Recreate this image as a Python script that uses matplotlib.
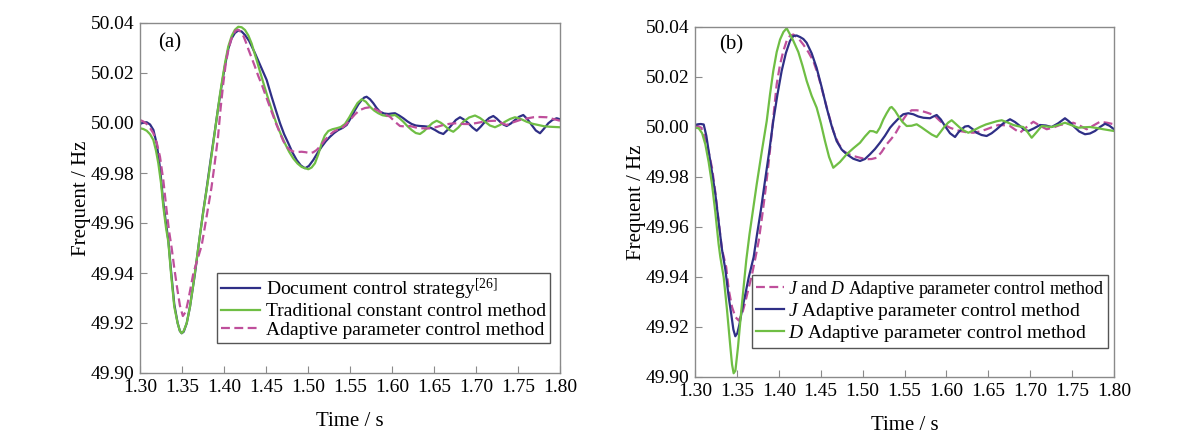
import matplotlib
matplotlib.use('Agg')
import matplotlib.pyplot as plt

# ---------------- (a) ----------------
# Document control strategy [26]
t_a_doc = [1.300, 1.304, 1.308, 1.312, 1.316, 1.320, 1.324, 1.3274, 1.3305, 1.3337, 1.3369, 1.3408,
           1.3448, 1.3475, 1.3496, 1.3520, 1.3556, 1.3595, 1.3655, 1.3706, 1.375, 1.379, 1.384, 1.389,
           1.393, 1.3972, 1.4012, 1.405, 1.409, 1.413, 1.417, 1.421, 1.425, 1.430, 1.4369, 1.443,
           1.4508, 1.4567, 1.462, 1.4667, 1.4716, 1.4766, 1.4815, 1.4865, 1.4915, 1.4964, 1.501,
           1.5063, 1.5113, 1.5163, 1.5212, 1.5262, 1.5311, 1.5361, 1.541, 1.546, 1.551, 1.556, 1.560,
           1.5639, 1.567, 1.5698, 1.5738, 1.5778, 1.5817, 1.5857, 1.5906, 1.5956, 1.600, 1.6036,
           1.6085, 1.6135, 1.6185, 1.6234, 1.6283, 1.6333, 1.6383, 1.6433, 1.6472, 1.6512, 1.6561,
           1.6611, 1.666, 1.671, 1.676, 1.681, 1.686, 1.6909, 1.6958, 1.7008, 1.7058, 1.7107, 1.7156,
           1.7206, 1.7246, 1.7286, 1.7325, 1.7365, 1.7415, 1.7464, 1.7514, 1.7563, 1.7613, 1.7663,
           1.7712, 1.7762, 1.7811, 1.7861, 1.791, 1.796, 1.800]
f_a_doc = [49.9996, 50.0002, 50.0003, 49.9994, 49.9972, 49.9915, 49.9815, 49.9692, 49.9610, 49.9532,
           49.9410, 49.9275, 49.9200, 49.9168, 49.9159, 49.9165, 49.9199, 49.9265, 49.9399, 49.9532,
           49.9640, 49.9730, 49.9850, 49.9965, 50.0060, 50.0150, 50.0230, 50.0295, 50.0338, 50.0360,
           50.0370, 50.0366, 50.0352, 50.0328, 50.0279, 50.0232, 50.0172, 50.0105, 50.0048, 49.9999,
           49.9955, 49.9919, 49.9882, 49.9852, 49.9830, 49.9819, 49.9828, 49.9852, 49.9880, 49.9905,
           49.9927, 49.9945, 49.9960, 49.9972, 49.9980, 49.9992, 50.0020, 50.0052, 50.0075, 50.0092,
           50.0102, 50.0105, 50.0095, 50.0079, 50.0060, 50.0045, 50.0038, 50.0036, 50.0038, 50.0039,
           50.0030, 50.0019, 50.0006, 49.9996, 49.9990, 49.9988, 49.9987, 49.9985, 49.9979, 49.9972,
           49.9962, 49.9956, 49.9972, 49.9992, 50.0012, 50.0023, 50.0013, 49.9999, 49.9982, 49.9969,
           49.9986, 50.0005, 50.0020, 50.0028, 50.0018, 50.0005, 49.9994, 49.9988, 49.9998, 50.0012,
           50.0025, 50.0032, 50.0015, 49.9992, 49.9970, 49.9959, 49.9978, 49.9999, 50.0012, 50.0019,
           50.0015]

# Traditional constant control method
t_a_trad = [1.300, 1.304, 1.308, 1.312, 1.3159, 1.319, 1.3218, 1.325, 1.3278, 1.331, 1.3337, 1.3369,
            1.3408, 1.3448, 1.3475, 1.3496, 1.352, 1.3556, 1.3595, 1.3633, 1.3671, 1.3711, 1.376,
            1.381, 1.386, 1.391, 1.395, 1.3985, 1.4015, 1.405, 1.4091, 1.413, 1.417, 1.421, 1.425,
            1.429, 1.4329, 1.4349, 1.439, 1.4429, 1.4478, 1.4528, 1.4578, 1.4627, 1.4676, 1.4726,
            1.4775, 1.4825, 1.4875, 1.4925, 1.5004, 1.5043, 1.5083, 1.5123, 1.5163, 1.520, 1.5242,
            1.5291, 1.5341, 1.539, 1.544, 1.549, 1.554, 1.559, 1.5639, 1.5689, 1.5738, 1.5787, 1.5837,
            1.5887, 1.5937, 1.5986, 1.6036, 1.6085, 1.6135, 1.6185, 1.6234, 1.6283, 1.6333, 1.6383,
            1.6433, 1.6482, 1.6532, 1.6581, 1.6631, 1.668, 1.673, 1.679, 1.6849, 1.6918, 1.6988,
            1.7048, 1.7107, 1.7166, 1.7226, 1.7285, 1.7345, 1.7405, 1.7464, 1.7533, 1.7603, 1.7672,
            1.7742, 1.7811, 1.788, 1.800]
f_a_trad = [49.9979, 49.9976, 49.9969, 49.9955, 49.9932, 49.9890, 49.9839, 49.9760, 49.9665, 49.9580,
            49.9525, 49.9399, 49.9265, 49.9199, 49.9168, 49.9159, 49.9168, 49.9199, 49.9265, 49.9350,
            49.9445, 49.9545, 49.9660, 49.9772, 49.9890, 50.0012, 50.0110, 50.0185, 50.0245, 50.0305,
            50.0348, 50.0373, 50.0385, 50.0383, 50.0372, 50.0350, 50.0318, 50.0295, 50.0250, 50.0205,
            50.0150, 50.0095, 50.0043, 49.9995, 49.9955, 49.9918, 49.9885, 49.9858, 49.9838, 49.9824,
            49.9815, 49.9822, 49.9839, 49.9875, 49.9919, 49.9950, 49.9968, 49.9975, 49.9979, 49.9984,
            49.9996, 50.0022, 50.0052, 50.0080, 50.0095, 50.0085, 50.0065, 50.0050, 50.0039, 50.0031,
            50.0028, 50.0029, 50.0032, 50.0020, 50.0005, 49.9987, 49.9972, 49.9960, 49.9956, 49.9968,
            49.9985, 50.0000, 50.0009, 50.0001, 49.9988, 49.9973, 49.9965, 49.9982, 50.0005, 50.0022,
            50.0030, 50.0020, 50.0005, 49.9990, 49.9983, 49.9992, 50.0005, 50.0016, 50.0023, 50.0016,
            50.0005, 49.9997, 49.9992, 49.9987, 49.9985, 49.9983]

# Adaptive parameter control method
t_a_adp = [1.300, 1.304, 1.308, 1.312, 1.3159, 1.320, 1.3238, 1.3278, 1.3317, 1.3345, 1.3377, 1.3408,
           1.344, 1.3475, 1.351, 1.3545, 1.3575, 1.3605, 1.3635, 1.3685, 1.3734, 1.377, 1.381, 1.385,
           1.389, 1.3929, 1.396, 1.3992, 1.4022, 1.4052, 1.4082, 1.4111, 1.414, 1.417, 1.420, 1.4235,
           1.427, 1.429, 1.433, 1.4369, 1.4408, 1.4448, 1.4507, 1.4567, 1.4617, 1.4667, 1.4706,
           1.4746, 1.4785, 1.4825, 1.4875, 1.4925, 1.4975, 1.5024, 1.5063, 1.5103, 1.5152, 1.5202,
           1.5252, 1.5302, 1.5351, 1.5401, 1.545, 1.550, 1.556, 1.5619, 1.5679, 1.5738, 1.5798,
           1.5857, 1.5916, 1.5976, 1.6035, 1.6095, 1.6155, 1.6214, 1.6283, 1.6353, 1.6412, 1.6472,
           1.6541, 1.6611, 1.669, 1.677, 1.685, 1.6929, 1.7008, 1.7087, 1.7156, 1.7226, 1.7296,
           1.7365, 1.7445, 1.7524, 1.7603, 1.7683, 1.7762, 1.7841, 1.792, 1.800]
f_a_adp = [50.0012, 50.0006, 49.9996, 49.9980, 49.9959, 49.9920, 49.9865, 49.9770, 49.9650, 49.9570,
           49.9500, 49.9420, 49.9345, 49.9270, 49.9228, 49.9245, 49.9292, 49.9345, 49.9399, 49.9455,
           49.9510, 49.9580, 49.9660, 49.9740, 49.9840, 49.9945, 50.0060, 50.0160, 50.0240, 50.0292,
           50.0330, 50.0355, 50.0370, 50.0373, 50.0365, 50.0345, 50.0315, 50.0295, 50.0260, 50.0225,
           50.0188, 50.0155, 50.0100, 50.0045, 50.0000, 49.9959, 49.9928, 49.9905, 49.9892, 49.9886,
           49.9884, 49.9885, 49.9883, 49.9879, 49.9883, 49.9892, 49.9910, 49.9932, 49.9950, 49.9965,
           49.9973, 49.9979, 49.9993, 50.0012, 50.0035, 50.0052, 50.0060, 50.0063, 50.0056, 50.0045,
           50.0035, 50.0025, 50.0005, 49.9988, 49.9986, 49.9988, 49.9982, 49.9979, 49.9978, 49.9979,
           49.9985, 49.9992, 49.9997, 49.9999, 49.9996, 49.9996, 50.0000, 50.0005, 50.0008, 50.0009,
           50.0001, 49.9992, 50.0003, 50.0012, 50.0018, 50.0023, 50.0024, 50.0023, 50.0016, 50.0009]

# ---------------- (b) ----------------
# J and D adaptive parameter control method
t_b_jd = [1.300, 1.3037, 1.3075, 1.3115, 1.3163, 1.3203, 1.3242, 1.3282, 1.3322, 1.3372, 1.3402,
          1.3442, 1.3482, 1.3521, 1.356, 1.360, 1.364, 1.368, 1.372, 1.376, 1.380, 1.384, 1.388,
          1.3919, 1.3947, 1.3975, 1.4015, 1.4054, 1.4094, 1.4134, 1.4173, 1.4233, 1.4292, 1.4352,
          1.4412, 1.4472, 1.4531, 1.4591, 1.465, 1.471, 1.477, 1.483, 1.4889, 1.4969, 1.5048,
          1.5108, 1.5168, 1.5227, 1.5287, 1.5336, 1.5386, 1.5436, 1.5486, 1.5536, 1.5585, 1.5645,
          1.5705, 1.5764, 1.5824, 1.5874, 1.5924, 1.5984, 1.6043, 1.6103, 1.6162, 1.6241, 1.6321,
          1.640, 1.648, 1.655, 1.662, 1.669, 1.6759, 1.6818, 1.6878, 1.6958, 1.7037, 1.7117,
          1.7197, 1.7277, 1.7356, 1.7436, 1.7515, 1.7595, 1.7674, 1.7754, 1.7833, 1.7917, 1.800]
f_b_jd = [50.0004, 50.0003, 49.9997, 49.9960, 49.9900, 49.9837, 49.9740, 49.9624, 49.9510, 49.9440,
          49.9350, 49.9280, 49.9240, 49.9226, 49.9250, 49.9300, 49.9355, 49.9410, 49.9475, 49.9544,
          49.9640, 49.9744, 49.9860, 49.9984, 50.0080, 50.0171, 50.0250, 50.0304, 50.0345, 50.0365,
          50.0370, 50.0355, 50.0330, 50.0300, 50.0264, 50.0205, 50.0130, 50.0055, 49.9984, 49.9935,
          49.9904, 49.9892, 49.9884, 49.9877, 49.9871, 49.9872, 49.9877, 49.9900, 49.9931, 49.9950,
          49.9971, 50.0000, 50.0031, 50.0055, 50.0067, 50.0067, 50.0064, 50.0058, 50.0051, 50.0040,
          50.0024, 50.0008, 49.9997, 49.9990, 49.9984, 49.9979, 49.9977, 49.9982, 49.9991, 50.0000,
          50.0008, 50.0007, 50.0004, 49.9990, 49.9977, 50.0000, 50.0021, 50.0005, 49.9991, 49.9998,
          50.0008, 50.0013, 50.0017, 50.0005, 49.9991, 50.0006, 50.0021, 50.0017, 50.0011]

# J adaptive parameter control method
t_b_j = [1.300, 1.3037, 1.307, 1.3104, 1.3135, 1.3163, 1.3203, 1.3243, 1.3282, 1.3322, 1.3362,
         1.3402, 1.3433, 1.3458, 1.3481, 1.3505, 1.353, 1.3561, 1.360, 1.364, 1.370, 1.374, 1.3787,
         1.3835, 1.3885, 1.3934, 1.3984, 1.4034, 1.4084, 1.4133, 1.4173, 1.4213, 1.4253, 1.4293,
         1.4332, 1.4392, 1.4451, 1.4511, 1.4571, 1.463, 1.469, 1.475, 1.481, 1.4889, 1.4969,
         1.5028, 1.5088, 1.5148, 1.5207, 1.5267, 1.5327, 1.5366, 1.5406, 1.5446, 1.5486, 1.5545,
         1.5605, 1.5665, 1.5725, 1.5764, 1.5804, 1.5844, 1.5884, 1.5934, 1.5983, 1.6043, 1.6103,
         1.6142, 1.6182, 1.6222, 1.6262, 1.6311, 1.6361, 1.642, 1.648, 1.654, 1.660, 1.668,
         1.6759, 1.6818, 1.6878, 1.6928, 1.6978, 1.7047, 1.7117, 1.7186, 1.7256, 1.7335, 1.7415,
         1.7465, 1.7515, 1.7585, 1.7654, 1.7713, 1.7773, 1.7833, 1.7893, 1.7946, 1.800]
f_b_j = [50.0008, 50.0011, 50.0012, 50.0010, 49.9965, 49.9904, 49.9820, 49.9731, 49.9620, 49.9510,
         49.9430, 49.9320, 49.9250, 49.9190, 49.9163, 49.9175, 49.9210, 49.9268, 49.9330, 49.9397,
         49.9480, 49.9570, 49.9670, 49.9784, 49.9900, 50.0024, 50.0130, 50.0224, 50.0295, 50.0344,
         50.0364, 50.0366, 50.0360, 50.0352, 50.0337, 50.0295, 50.0237, 50.0160, 50.0077, 50.0005,
         49.9944, 49.9910, 49.9891, 49.9873, 49.9864, 49.9872, 49.9891, 49.9912, 49.9937, 49.9965,
         49.9997, 50.0012, 50.0026, 50.0040, 50.0051, 50.0055, 50.0051, 50.0042, 50.0037, 50.0036,
         50.0035, 50.0042, 50.0048, 50.0030, 50.0004, 49.9975, 49.9960, 49.9978, 49.9991, 50.0002,
         50.0004, 49.9992, 49.9977, 49.9968, 49.9964, 49.9975, 49.9991, 50.0015, 50.0031, 50.0020,
         50.0004, 49.9990, 49.9984, 49.9995, 50.0008, 50.0006, 50.0000, 50.0015, 50.0035, 50.0022,
         50.0004, 49.9982, 49.9971, 49.9974, 49.9984, 50.0000, 50.0013, 50.0005, 49.9991]

# D adaptive parameter control method
t_b_d = [1.300, 1.3044, 1.3085, 1.3123, 1.3163, 1.3203, 1.3242, 1.3282, 1.3302, 1.3342, 1.3382,
         1.3422, 1.3442, 1.3461, 1.3482, 1.3513, 1.3553, 1.3612, 1.365, 1.3693, 1.3736, 1.3796,
         1.3856, 1.3895, 1.3934, 1.3975, 1.4015, 1.4055, 1.4094, 1.4134, 1.4173, 1.4233, 1.4283,
         1.4333, 1.4392, 1.4452, 1.4502, 1.4551, 1.460, 1.465, 1.473, 1.481, 1.489, 1.4969,
         1.5028, 1.5088, 1.5128, 1.5168, 1.5207, 1.5247, 1.5287, 1.5327, 1.5347, 1.5387, 1.5426,
         1.5476, 1.5526, 1.5585, 1.5645, 1.5705, 1.5764, 1.5824, 1.5884, 1.5934, 1.5983, 1.6023,
         1.6063, 1.6113, 1.6162, 1.6212, 1.6262, 1.6332, 1.6401, 1.647, 1.654, 1.660, 1.666,
         1.673, 1.6799, 1.6858, 1.6918, 1.6968, 1.7018, 1.7078, 1.7137, 1.7196, 1.7256, 1.7335,
         1.7415, 1.7495, 1.7574, 1.7644, 1.7714, 1.7793, 1.7873, 1.800]
f_b_d = [49.9997, 49.9995, 49.9975, 49.9931, 49.9860, 49.9771, 49.9660, 49.9531, 49.9480, 49.9400,
         49.9268, 49.9120, 49.9050, 49.9015, 49.9025, 49.9120, 49.9268, 49.9468, 49.9570, 49.9670,
         49.9770, 49.9900, 50.0024, 50.0130, 50.0224, 50.0300, 50.0350, 50.0380, 50.0395, 50.0370,
         50.0345, 50.0300, 50.0245, 50.0184, 50.0125, 50.0077, 50.0015, 49.9944, 49.9880, 49.9837,
         49.9860, 49.9891, 49.9915, 49.9937, 49.9962, 49.9984, 49.9983, 49.9977, 49.9998, 50.0030,
         50.0055, 50.0077, 50.0080, 50.0065, 50.0044, 50.0020, 50.0004, 50.0005, 50.0011, 49.9998,
         49.9984, 49.9970, 49.9960, 49.9982, 50.0004, 50.0018, 50.0027, 50.0012, 49.9997, 49.9985,
         49.9977, 49.9988, 50.0000, 50.0010, 50.0017, 50.0023, 50.0027, 50.0018, 50.0008, 50.0003,
         50.0000, 49.9980, 49.9957, 49.9980, 50.0004, 50.0002, 50.0000, 50.0008, 50.0017, 50.0007,
         49.9997, 49.9999, 50.0000, 49.9996, 49.9991, 49.9984]

x_ticks = [1.30, 1.35, 1.40, 1.45, 1.50, 1.55, 1.60, 1.65, 1.70, 1.75, 1.80]
y_ticks = [49.90, 49.92, 49.94, 49.96, 49.98, 50.00, 50.02, 50.04]

BLUE = '#2f2f86'
GREEN = '#6fbe44'
MAGENTA = '#bf4f9b'
FRAME = '#8a8a8a'

plt.rcParams['font.family'] = ['Liberation Serif', 'DejaVu Serif']
plt.rcParams['mathtext.fontset'] = 'custom'
plt.rcParams['mathtext.rm'] = 'Liberation Serif'
plt.rcParams['mathtext.it'] = 'Liberation Serif:italic'

fig = plt.figure(figsize=(12, 4.44), dpi=100)
ax1 = fig.add_axes([140 / 1200, 1 - 373 / 444, 420 / 1200, 350 / 444])
ax2 = fig.add_axes([695 / 1200, 1 - 377 / 444, 419 / 1200, 350 / 444])


def style_axes(ax, tag, tag_x, tag_y):
    ax.set_xlim(1.30, 1.80)
    ax.set_ylim(49.90, 50.04)
    ax.set_xticks(x_ticks)
    ax.set_xticklabels(['%.2f' % v for v in x_ticks])
    ax.set_yticks(y_ticks)
    ax.set_yticklabels(['%.2f' % v for v in y_ticks])
    ax.tick_params(direction='in', length=5, width=0.8, color=FRAME, labelsize=14, pad=4)
    for s in ax.spines.values():
        s.set_color(FRAME)
        s.set_linewidth(1.0)
    ax.set_xlabel('Time / s', fontsize=15, labelpad=12)
    ax.set_ylabel('Frequent / Hz', fontsize=15, labelpad=0)
    ax.text(tag_x, tag_y, tag, transform=ax.transAxes, fontsize=15, va='center', ha='left')


line_kw = dict(lw=1.6, solid_joinstyle='round', dash_joinstyle='round')

# (a)
ax1.plot(t_a_doc, f_a_doc, color=BLUE, label='Document control strategy$^{\\mathrm{[26]}}$', **line_kw)
ax1.plot(t_a_trad, f_a_trad, color=GREEN, label='Traditional constant control method', **line_kw)
ax1.plot(t_a_adp, f_a_adp, color=MAGENTA, ls=(0, (4, 2)), label='Adaptive parameter control method', **line_kw)
style_axes(ax1, '(a)', 0.043, 0.943)
leg1 = ax1.legend(loc='lower right', bbox_to_anchor=(0.976, 0.086), fontsize=14, frameon=True,
                  fancybox=False, edgecolor='#555555', framealpha=1, borderpad=0.2,
                  labelspacing=0.05, handlelength=2.0, handletextpad=0.3, borderaxespad=0)
leg1.get_frame().set_linewidth(1.0)

# (b)
ax2.plot(t_b_jd, f_b_jd, color=MAGENTA, ls=(0, (4, 2)),
         label='$\\mathit{J}$ and $\\mathit{D}$ Adaptive parameter control method', **line_kw)
ax2.plot(t_b_j, f_b_j, color=BLUE, label='$\\mathit{J}$ Adaptive parameter control method', **line_kw)
ax2.plot(t_b_d, f_b_d, color=GREEN, label='$\\mathit{D}$ Adaptive parameter control method', **line_kw)
style_axes(ax2, '(b)', 0.058, 0.949)
leg2 = ax2.legend(loc='lower right', bbox_to_anchor=(0.986, 0.083), fontsize=14, frameon=True,
                  fancybox=False, edgecolor='#555555', framealpha=1, borderpad=0.2,
                  labelspacing=0.05, handlelength=1.45, handletextpad=0.2, borderaxespad=0)
leg2.get_frame().set_linewidth(1.0)
leg2.get_texts()[0].set_fontsize(12.9)

fig.savefig('out.png', dpi=100)
plt.close('all')
